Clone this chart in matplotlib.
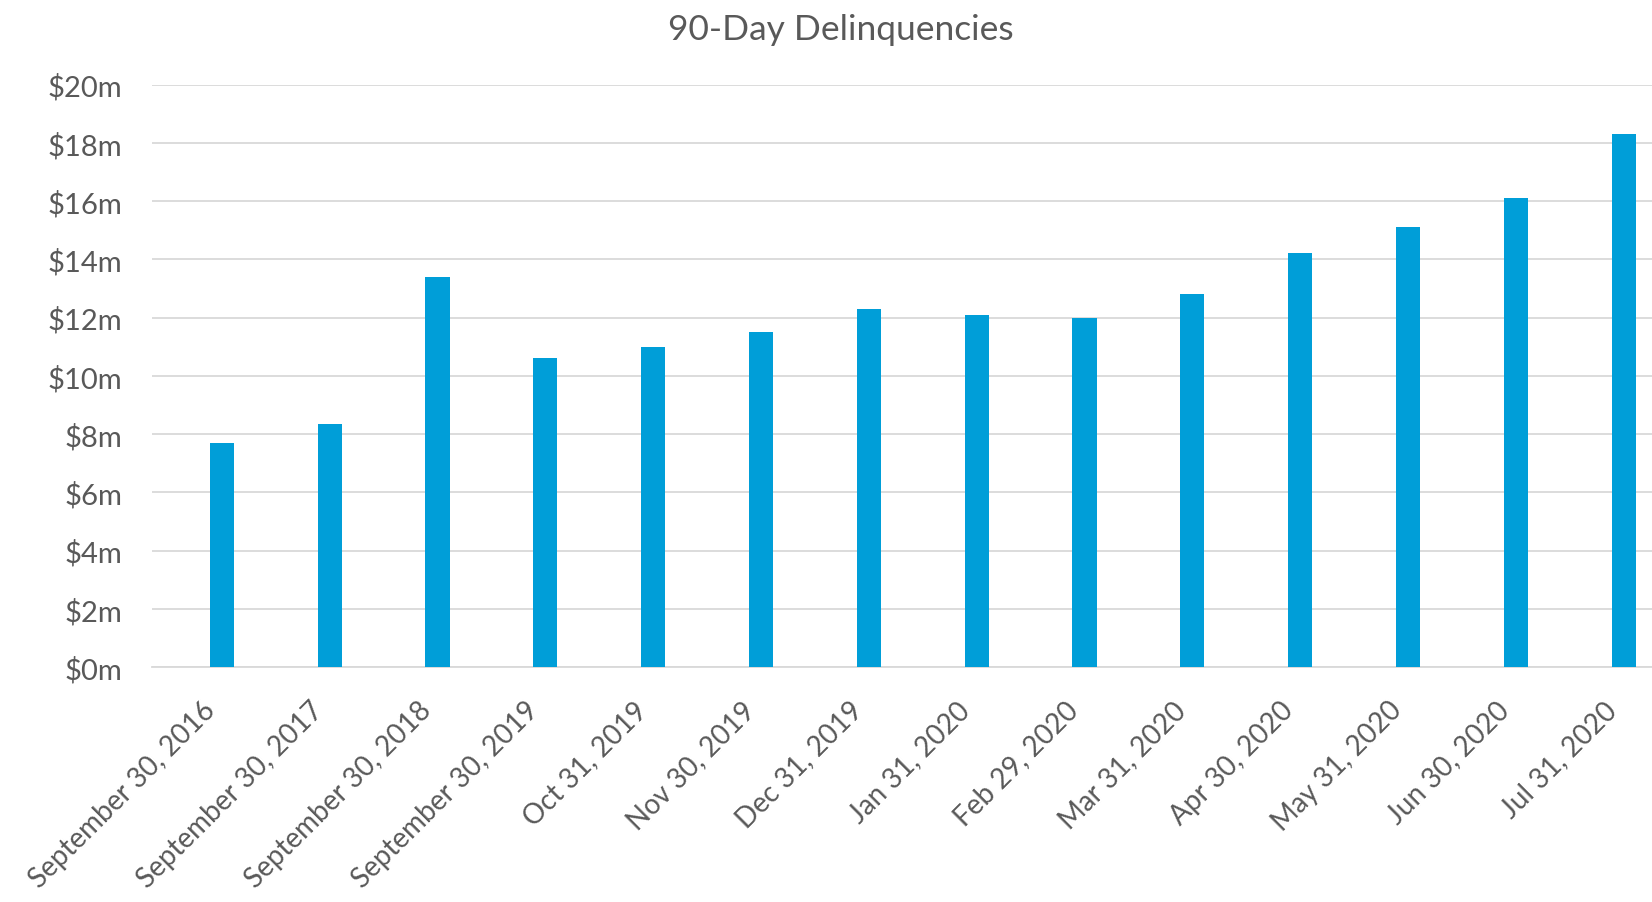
import matplotlib
matplotlib.use("Agg")
import matplotlib.pyplot as plt
from matplotlib.ticker import FuncFormatter, MultipleLocator
from matplotlib.transforms import ScaledTranslation

# Reporting dates and 90-day delinquency balances ($ millions)
dates = [
    "September 30, 2016", "September 30, 2017", "September 30, 2018",
    "September 30, 2019", "Oct 31, 2019", "Nov 30, 2019", "Dec 31, 2019",
    "Jan 31, 2020", "Feb 29, 2020", "Mar 31, 2020", "Apr 30, 2020",
    "May 31, 2020", "Jun 30, 2020", "Jul 31, 2020",
]
delinquencies = [7.7, 8.35, 13.4, 10.6, 11.0, 11.5, 12.3,
                 12.1, 12.0, 12.8, 14.2, 15.1, 16.1, 18.3]

BAR_COLOR = "#009ED8"
TEXT_COLOR = "#595959"
GRID_COLOR = "#D9D9D9"

plt.rcParams["font.family"] = ["Lato", "DejaVu Sans"]

fig = plt.figure(figsize=(16.52, 9.03), dpi=100)
ax = fig.add_axes([0.0923, 0.2602, 0.9077, 0.6451])

x = list(range(len(dates)))
ax.bar(x, delinquencies, width=0.225, color=BAR_COLOR, zorder=3)

ax.set_ylim(0, 20)
ax.set_xlim(-0.643, 13.263)
ax.yaxis.set_major_locator(MultipleLocator(2))
ax.yaxis.set_major_formatter(FuncFormatter(lambda v, _: f"${v:.0f}m"))
ax.grid(axis="y", color=GRID_COLOR, linewidth=1.3, zorder=0)
ax.set_axisbelow(True)

for side in ("top", "right", "left"):
    ax.spines[side].set_visible(False)
ax.spines["bottom"].set_color(GRID_COLOR)
ax.spines["bottom"].set_linewidth(1.3)

ax.set_xticks(x)
ax.set_xticklabels(dates, rotation=45, ha="right", rotation_mode="anchor")
ax.tick_params(axis="x", length=0, pad=21, labelsize=20, labelcolor=TEXT_COLOR)
ax.tick_params(axis="y", length=0, pad=22, labelsize=21, labelcolor=TEXT_COLOR)

# nudge the slanted date labels so their ends sit just left of each bar
shift = ScaledTranslation(-0.20, 0, fig.dpi_scale_trans)
for lbl in ax.get_xticklabels():
    lbl.set_transform(lbl.get_transform() + shift)

fig.text(0.509, 0.967, "90-Day Delinquencies", ha="center", va="center",
         fontsize=25.5, color=TEXT_COLOR)

fig.savefig("out.png", dpi=100)
